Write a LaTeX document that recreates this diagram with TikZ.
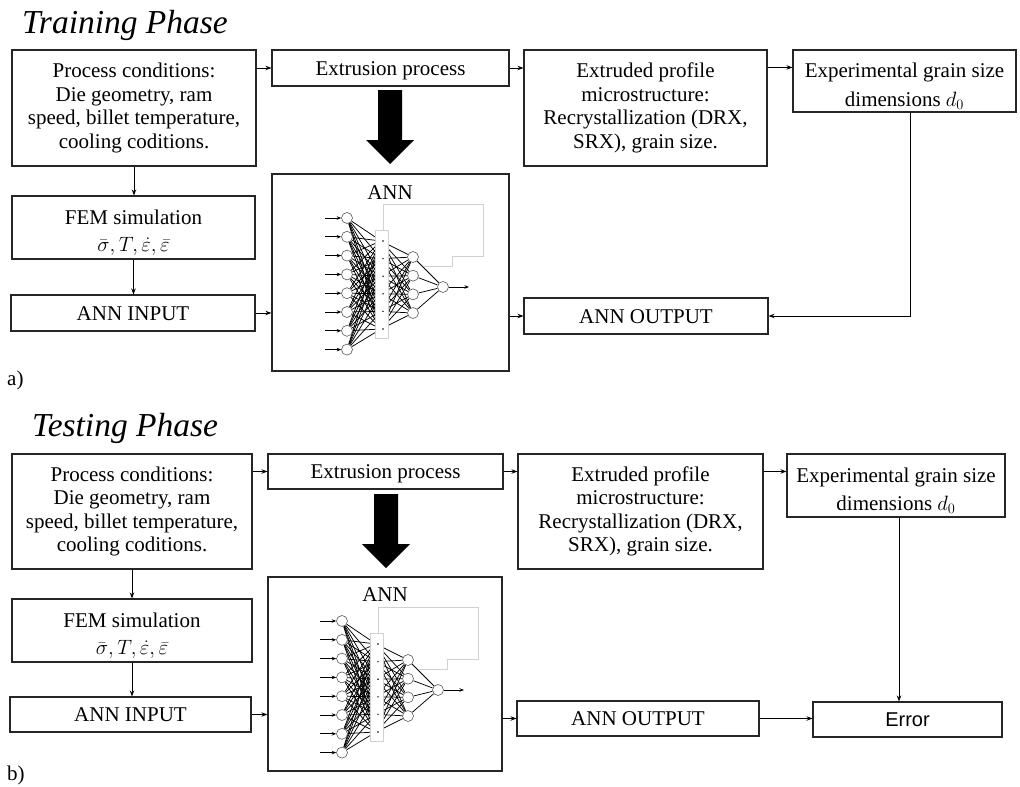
\documentclass[tikz,border=0pt]{standalone}
\usepackage{fontspec}
\setmainfont{Liberation Serif}
\newfontfamily\errfont{Liberation Sans}
\usetikzlibrary{arrows.meta}
\pgfdeclarelayer{netbg}
\pgfsetlayers{netbg,main}
\newcommand\myfs{\fontsize{21}{23.5}\selectfont}
\newcommand\topstrut{\rule{0pt}{25pt}}
\tikzset{
  box/.style={draw=black!85, line width=1.1pt, inner sep=0pt, align=center, font=\myfs},
  onebox/.style={draw=black!85, line width=1.1pt, inner sep=0pt, font=\myfs, text height=15pt, text depth=1pt},
  arr/.style={line width=0.9pt, -{Stealth[length=6pt,width=4.5pt]}},
  neuron/.style={circle, draw=black!65, fill=white, minimum size=11pt, inner sep=0pt, line width=0.6pt},
  wire/.style={line width=0.75pt, black},
  narr/.style={line width=0.8pt, -{Stealth[length=4.5pt,width=3.5pt]}},
  ghost/.style={draw=black!18, line width=0.5pt},
  blockarrow/.style={fill=black},
  title/.style={anchor=base west, inner sep=0pt, font=\fontsize{33.5}{36}\selectfont\itshape},
  tag/.style={anchor=base west, inner sep=0pt, font=\fontsize{21}{24}\selectfont},
}
\newcommand\annnet[1]{%
  \foreach \k in {1,...,8} \node[neuron] (#1i\k) at (347, {218+(\k-1)*18.8}) {};
  \foreach \k in {1,...,8} \coordinate (#1a\k) at (325, {218+(\k-1)*18.8});
  \foreach \k in {1,...,6} \coordinate (#1h\k) at (381, {241+(\k-1)*17.6});
  \foreach \k in {1,...,4} \node[neuron] (#1n\k) at (413, {257+(\k-1)*18.67}) {};
  \node[neuron] (#1o) at (443,287) {};
  \coordinate (#1oe) at (469,287);
  \begin{pgfonlayer}{netbg}
    \foreach \k in {1,...,8}{\foreach \j in {1,...,6}{\draw[wire] (#1i\k) -- (#1h\j);}}
    \foreach \j in {1,...,6}{\foreach \k in {1,...,4}{\draw[wire] (#1h\j) -- (#1n\k);}}
    \foreach \k in {1,...,4}{\draw[wire] (#1n\k) -- (#1o);}
  \end{pgfonlayer}
  \foreach \k in {1,...,8}{\draw[narr] (#1a\k) -- (#1i\k);}
  \draw[narr] (#1o) -- (#1oe);
  \draw[ghost] (383,230) -- (383,204) -- (483,204) -- (483,256) -- (452,256) -- (452,266) -- (424,266);
  \filldraw[fill=white, ghost] (375,230) rectangle (388,338);
  \foreach \j in {1,...,6}{\fill (383, {241+(\j-1)*17.6}) circle (0.8pt);}
}
\begin{document}
\begin{tikzpicture}[x=1pt,y=-1pt]
\useasboundingbox (0,0) rectangle (1020,787);

% ---------------- Training phase ----------------
\node[title] (ttitle) at (22,33) {Training Phase};
\node[box, minimum width=244pt, minimum height=116pt] (t1) at (134,108)
  {Process conditions:\\ Die geometry, ram\\ speed, billet temperature,\\ cooling coditions.};
\node[onebox, minimum width=237pt, minimum height=36pt] (t2) at (390.5,68) {Extrusion process};
\node[box, minimum width=243pt, minimum height=116pt] (t3) at (645.5,108)
  {Extruded profile\\ microstructure:\\ Recrystallization (DRX,\\ SRX), grain size.};
\node[box, minimum width=223pt, minimum height=62pt] (t4) at (904.5,81)
  {\topstrut Experimental grain size\\[5pt] dimensions $d_0$};
\node[box, minimum width=243pt, minimum height=63pt] (tfem) at (133.5,227.5)
  {\topstrut FEM simulation\\[4pt] $\bar{\sigma}, T, \dot{\varepsilon}, \bar{\varepsilon}$};
\node[onebox, minimum width=244pt, minimum height=36pt] (tin) at (133,313) {ANN INPUT};
\node[box, minimum width=237pt, minimum height=197pt, line width=1.3pt] (tann) at (390.5,272.5) {};
\node[inner sep=0pt, font=\myfs] (tannl) at (390,193) {ANN};
\node[onebox, minimum width=244pt, minimum height=36pt] (tout) at (646,316) {ANN OUTPUT};
\node[tag] (ta) at (7,385) {a)};

\fill[blockarrow] (378,90) -- (402,90) -- (402,140) -- (414,140) -- (390,164) -- (366,140) -- (378,140) -- cycle;
\annnet{tr}

\draw[arr] (t1.east |- t2.west) -- (t2.west);
\draw[arr] (t2.east) -- (t2.east -| t3.west);
\draw[arr] ([yshift=-18pt]t3.north east) -- ([yshift=-18pt]t4.north west);
\draw[arr] (t1.south) -- (t1.south |- tfem.north);
\draw[arr] (tfem.south) -- (tfem.south |- tin.north);
\draw[arr] (tin.east) -- (tin.east -| tann.west);
\draw[arr] (tann.east |- tout.west) -- (tout.west);
\draw[arr] ([xshift=5.5pt]t4.south) -- ([xshift=5.5pt]t4.south |- tout.east) -- (tout.east);

% ---------------- Testing phase ----------------
\node[title] (stitle) at (32,436) {Testing Phase};
\node[box, minimum width=240pt, minimum height=115pt] (s1) at (132,511.5)
  {Process conditions:\\ Die geometry, ram\\ speed, billet temperature,\\ cooling coditions.};
\node[onebox, minimum width=235pt, minimum height=35pt] (s2) at (385.5,471.5) {Extrusion process};
\node[box, minimum width=245pt, minimum height=115pt] (s3) at (640.5,511.5)
  {Extruded profile\\ microstructure:\\ Recrystallization (DRX,\\ SRX), grain size.};
\node[box, minimum width=218pt, minimum height=63pt] (s4) at (896,485.5)
  {\topstrut Experimental grain size\\[5pt] dimensions $d_0$};
\node[box, minimum width=240pt, minimum height=63pt] (sfem) at (132,630.5)
  {\topstrut FEM simulation\\[4pt] $\bar{\sigma}, T, \dot{\varepsilon}, \bar{\varepsilon}$};
\node[onebox, minimum width=241pt, minimum height=35pt] (sin) at (130.5,714.5) {ANN INPUT};
\node[box, minimum width=234pt, minimum height=194pt, line width=1.3pt] (sann) at (385,674) {};
\node[inner sep=0pt, font=\myfs] (sannl) at (385,595) {ANN};
\node[onebox, minimum width=242pt, minimum height=35pt] (sout) at (638,718.5) {ANN OUTPUT};
\node[onebox, minimum width=189pt, minimum height=35pt, font=\errfont\fontsize{20}{24}\selectfont] (serr) at (907.5,719.5) {Error};
\node[tag] (sb) at (7,780) {b)};

\fill[blockarrow] (374,494) -- (398,494) -- (398,544) -- (410,544) -- (386,568) -- (362,544) -- (374,544) -- cycle;
\begin{scope}[shift={(-5,403)}]
\annnet{te}
\end{scope}

\draw[arr] (s1.east |- s2.west) -- (s2.west);
\draw[arr] (s2.east) -- (s2.east -| s3.west);
\draw[arr] ([yshift=-18pt]s3.north east) -- ([yshift=-18pt]s4.north west);
\draw[arr] (s1.south) -- (s1.south |- sfem.north);
\draw[arr] (sfem.south) -- (sfem.south |- sin.north);
\draw[arr] (sin.east) -- (sin.east -| sann.west);
\draw[arr] (sann.east |- sout.west) -- (sout.west);
\draw[arr] (sout.east) -- (sout.east -| serr.west);
\draw[arr] ([xshift=3pt]s4.south) -- ([xshift=3pt]s4.south |- serr.north);
\end{tikzpicture}
\end{document}
